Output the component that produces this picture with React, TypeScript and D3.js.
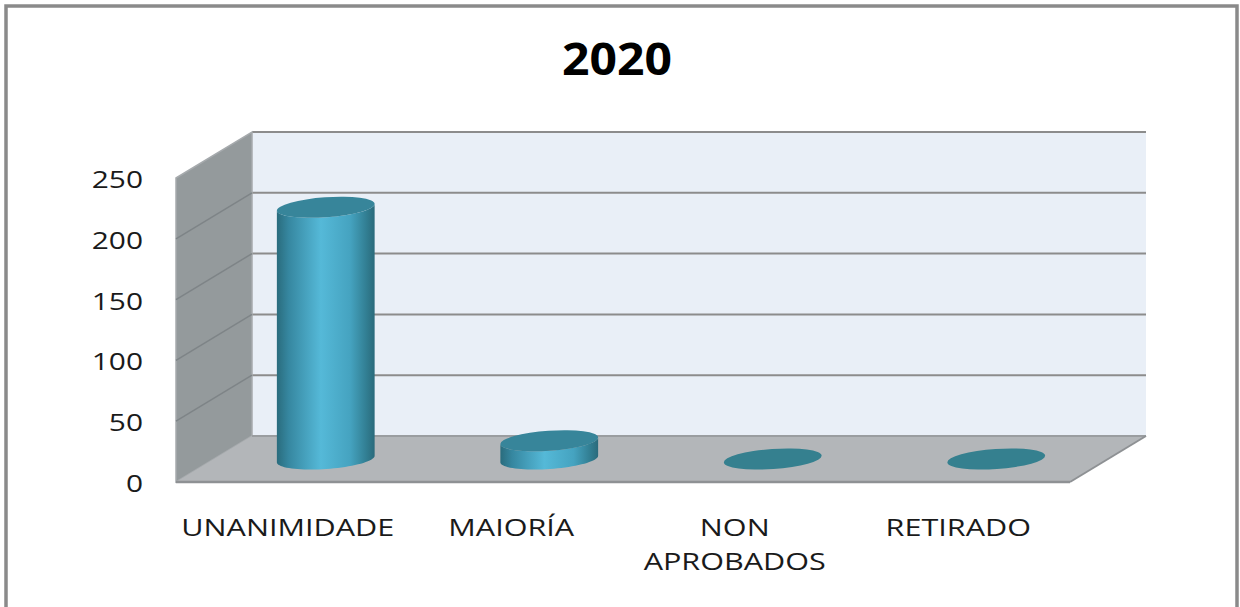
import React from "react";
import * as d3 from "d3";

const title = "2020";
const categories = ["UNANIMIDADE", "MAIORÍA", "NON APROBADOS", "RETIRADO"];
const labelLines = [["UNANIMIDADE"], ["MAIORÍA"], ["NON", "APROBADOS"], ["RETIRADO"]];
const values = [207, 15, 0, 0];
const yTicks = [0, 50, 100, 150, 200, 250];

const W = 1240;
const H = 607;
const DX = 76; // depth offset x
const DY = 46; // depth offset y (upwards)
const RX = 49;
const RY = 10;
const PHI = (-4 * Math.PI) / 180;

function ellipsePoints(cx: number, cy: number, t0: number, t1: number, n = 40) {
  const pts: [number, number][] = [];
  for (let i = 0; i <= n; i++) {
    const t = t0 + ((t1 - t0) * i) / n;
    pts.push([
      cx + RX * Math.cos(t) * Math.cos(PHI) - RY * Math.sin(t) * Math.sin(PHI),
      cy + RX * Math.cos(t) * Math.sin(PHI) + RY * Math.sin(t) * Math.cos(PHI),
    ]);
  }
  return pts;
}

export default function App() {
  const x = d3.scaleBand<string>().domain(categories).range([176, 1070]).padding(0);
  const y = d3.scaleLinear().domain([0, 250]).range([482, 178]);
  const bw = x.bandwidth();
  const backL = 176 + DX;
  const backR = 1070 + DX;
  const y0 = y(0);
  const yMax = y(250);
  const line = d3.line();

  return (
    <svg width={W} height={H} style={{ position: "absolute", left: 0, top: 0, background: "#fff" }}>
      <defs>
        <linearGradient id="cyl" x1="0" x2="1" y1="0" y2="0">
          <stop offset="0" stopColor="#2A6C7D" />
          <stop offset="0.12" stopColor="#3687A0" />
          <stop offset="0.45" stopColor="#55B9D8" />
          <stop offset="0.75" stopColor="#45A3C0" />
          <stop offset="0.92" stopColor="#317D91" />
          <stop offset="1" stopColor="#2A6A7B" />
        </linearGradient>
      </defs>
      {/* outer border */}
      <rect x={6} y={6} width={1231} height={640} fill="none" stroke="#8A8A8A" strokeWidth={3.5} />

      {/* title */}
      <text x={617} y={75} textAnchor="middle" fontFamily="'Open Sans', sans-serif" fontWeight="bold" fontSize={45} fill="#000" textLength={110} lengthAdjust="spacingAndGlyphs">
        {title}
      </text>

      {/* back wall */}
      <rect x={backL} y={yMax - DY} width={backR - backL} height={y0 - yMax} fill="#E9EFF7" />
      {yTicks.filter((t) => t > 0).map((t) => (
        <line key={"g" + t} x1={backL} x2={backR} y1={y(t) - DY} y2={y(t) - DY} stroke="#8C8C8C" strokeWidth={2} />
      ))}

      {/* left wall */}
      <polygon
        points={`176,${yMax} ${backL},${yMax - DY} ${backL},${y0 - DY} 176,${y0}`}
        fill="#949A9C"
        stroke="#A6AAAD"
        strokeWidth={1.5}
      />
      {yTicks.filter((t) => t > 0 && t < 250).map((t) => (
        <line key={"lw" + t} x1={176} x2={backL} y1={y(t)} y2={y(t) - DY} stroke="#7E8487" strokeWidth={1.5} />
      ))}

      {/* floor */}
      <polygon
        points={`176,${y0} ${backL},${y0 - DY} ${backR},${y0 - DY} 1070,${y0}`}
        fill="#B3B6B9"
      />
      <line x1={backL} x2={backR} y1={y0 - DY} y2={y0 - DY} stroke="#9A9DA0" strokeWidth={2} />
      <line x1={176} x2={1070} y1={y0} y2={y0} stroke="#8E9194" strokeWidth={2.5} />
      <line x1={1070} x2={backR} y1={y0} y2={y0 - DY} stroke="#8E9194" strokeWidth={2} />

      {/* cylinders */}
      {categories.map((c, i) => {
        const cx = (x(c) as number) + bw / 2 + DX / 2;
        const baseY = y(0) - DY / 2;
        const topY = y(values[i]) - DY / 2;
        const side = [
          ...ellipsePoints(cx, baseY, 0, Math.PI),
          ...ellipsePoints(cx, topY, Math.PI, 0),
        ];
        return (
          <g key={c}>
            {values[i] > 0 && <path d={(line(side) as string) + "Z"} fill="url(#cyl)" />}
            <ellipse
              cx={cx}
              cy={topY}
              rx={RX}
              ry={RY}
              transform={`rotate(-4 ${cx} ${topY})`}
              fill={values[i] > 0 ? "#37859A" : "#35808F"}
            />
          </g>
        );
      })}

      {/* y axis labels */}
      {yTicks.map((t) => (
        <text
          key={"yl" + t}
          transform={`translate(143 ${y(t) + 10}) scale(1.3 1)`}
          textAnchor="end"
          fontFamily="'Open Sans', sans-serif"
          fontSize={23}
          fill="#1A1A1A"
        >
          {t}
        </text>
      ))}

      {/* x axis labels */}
      {categories.map((c, i) =>
        labelLines[i].map((ln, j) => (
          <text
            key={c + j}
            transform={`translate(${(x(c) as number) + bw / 2} ${536 + j * 34}) scale(1.33 1)`}
            textAnchor="middle"
            fontFamily="'Open Sans', sans-serif"
            fontSize={23}
            fill="#1A1A1A"
          >
            {ln}
          </text>
        ))
      )}
    </svg>
  );
}
